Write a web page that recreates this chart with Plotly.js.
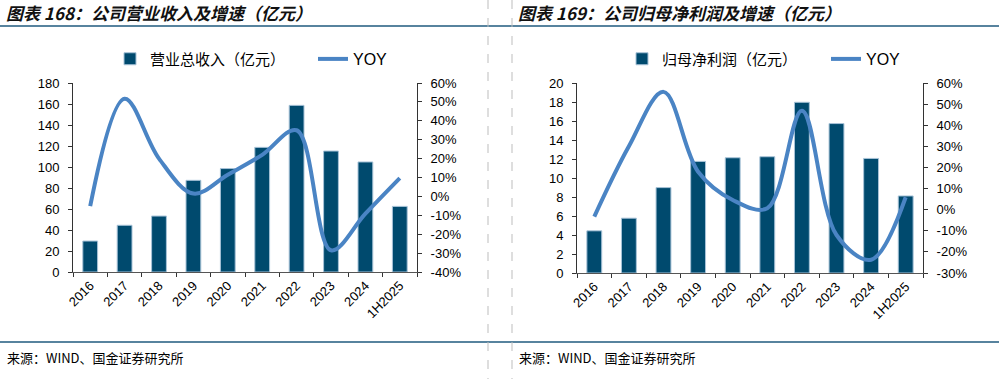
<!DOCTYPE html>
<html><head><meta charset="utf-8">
<script src="https://cdn.plot.ly/plotly-3.0.1.min.js"></script>
<style>
body{margin:0;background:#fff;}
#c1{position:absolute;left:0;top:0;width:500px;height:379px;}
#c2{position:absolute;left:500px;top:0;width:499px;height:379px;}
</style>
</head><body>
<div id="c1"></div><div id="c2"></div>
<script>
// ---- data ----
const categories = ['2016','2017','2018','2019','2020','2021','2022','2023','2024','1H2025'];
const revenue = [29.5, 44.5, 53.3, 87.3, 98.5, 118.7, 158.7, 115.2, 104.8, 62.5];
const revenueYoy = [-0.052, 0.517, 0.20, 0.015, 0.115, 0.22, 0.35, -0.285, -0.091, 0.097];
const netProfit = [4.44, 5.77, 8.99, 11.75, 12.13, 12.24, 17.97, 15.73, 12.06, 8.11];
const netProfitYoy = [-0.033, 0.30, 0.558, 0.18, 0.046, 0.007, 0.468, -0.12, -0.237, 0.059];
const revYoyTickVals = [-0.4,-0.3,-0.2,-0.1,0,0.1,0.2,0.3,0.4,0.5,0.6];
const revYoyTickText = ['-40%','-30%','-20%','-10%','0%','10%','20%','30%','40%','50%','60%'];
const npYoyTickVals = [-0.3,-0.2,-0.1,0,0.1,0.2,0.3,0.4,0.5,0.6];
const npYoyTickText = ['-30%','-20%','-10%','0%','10%','20%','30%','40%','50%','60%'];

const BAR = '#004A6E';
const LINE = '#4A84C4';
const RULE = '#1F5A7E';
const CJK = '"Noto Sans CJK SC", sans-serif';
const NUM = '"Liberation Sans", Arial, sans-serif';

function build(id, W, m, cfg) {
  const pw = W - m.l - m.r, ph = 379 - m.t - m.b;
  const X = px => (px - m.l) / pw;
  const Y = py => (379 - m.b - py) / ph;
  const traces = [
    {type:'bar', x:categories, y:cfg.bars, name:cfg.barName, legend:'legend',
     marker:{color:BAR, line:{color:'#A8C3D8', width:1}}, yaxis:'y'},
    {type:'scatter', mode:'lines', x:categories, y:cfg.yoy, name:'YOY', legend:'legend2',
     line:{color:LINE, width:4, shape:'spline', smoothing:1}, yaxis:'y2'}
  ];
  const axisCommon = {showgrid:false, zeroline:false, showline:true, linecolor:'#333', linewidth:1,
    ticks:'outside', ticklen:4, tickcolor:'#333', tickfont:{family:NUM, size:13, color:'#000'}};
  const legBase = {orientation:'h', xref:'container', yref:'container', y:1-59/379,
      xanchor:'left', yanchor:'middle', bgcolor:'rgba(0,0,0,0)'};
  const layout = {
    width:W, height:379, margin:m, paper_bgcolor:'#fff', plot_bgcolor:'#fff',
    bargap:0.57, showlegend:true,
    title:{text:cfg.title, xref:'container', yref:'container', x:cfg.titleX/W, y:1-14/379,
      xanchor:'left', yanchor:'middle',
      font:{family:CJK, size:17, weight:'bold', style:'italic', color:'#111'}},
    legend:Object.assign({}, legBase, {x:cfg.legX/W, font:{family:CJK, size:15, color:'#000'}}),
    legend2:Object.assign({}, legBase, {x:cfg.leg2X/W, font:{family:NUM, size:16, color:'#000'}}),
    xaxis:Object.assign({}, axisCommon, {type:'category', tickangle:-45, tickson:'boundaries', linecolor:'#555'}),
    yaxis:Object.assign({}, axisCommon, {range:cfg.yRange, dtick:cfg.dtick, tick0:0, ticklabelstandoff:6}),
    yaxis2:Object.assign({}, axisCommon, {overlaying:'y', side:'right', range:cfg.y2Range,
      tickvals:cfg.tickVals, ticktext:cfg.tickText, ticklabelstandoff:6}),
    shapes:[
      {type:'line', xref:'paper', yref:'paper', x0:X(0), x1:X(W), y0:Y(26), y1:Y(26), line:{color:RULE, width:1.5}},
      {type:'line', xref:'paper', yref:'paper', x0:X(0), x1:X(W), y0:Y(342), y1:Y(342), line:{color:RULE, width:1.5}},
      {type:'line', xref:'paper', yref:'paper', x0:X(cfg.dashX), x1:X(cfg.dashX), y0:Y(0), y1:Y(379), line:{color:'#BDBDBD', width:1, dash:'dash'}}
    ],
    annotations:[
      {text:'来源：WIND、国金证券研究所', xref:'paper', yref:'paper', x:X(cfg.srcX), y:Y(357),
       xanchor:'left', yanchor:'middle', showarrow:false, font:{family:CJK, size:13, color:'#000'}}
    ]
  };
  Plotly.newPlot(id, traces, layout, {displayModeBar:false, staticPlot:true});
}

build('c1', 500, {l:73, r:83, t:83, b:107, pad:0}, {
  bars:revenue, yoy:revenueYoy, barName:'营业总收入（亿元）',
  title:'图表 168：公司营业收入及增速（亿元）', titleX:6,
  legX:110, leg2X:313, yRange:[0,180], dtick:20, y2Range:[-0.4,0.6],
  tickVals:revYoyTickVals, tickText:revYoyTickText, dashX:488, srcX:5
});
build('c2', 499, {l:77, r:76, t:83, b:106, pad:0}, {
  bars:netProfit, yoy:netProfitYoy, barName:'归母净利润（亿元）',
  title:'图表 169：公司归母净利润及增速（亿元）', titleX:18,
  legX:122, leg2X:326, yRange:[0,20], dtick:2, y2Range:[-0.3,0.6],
  tickVals:npYoyTickVals, tickText:npYoyTickText, dashX:12, srcX:17
});
</script>
</body></html>
